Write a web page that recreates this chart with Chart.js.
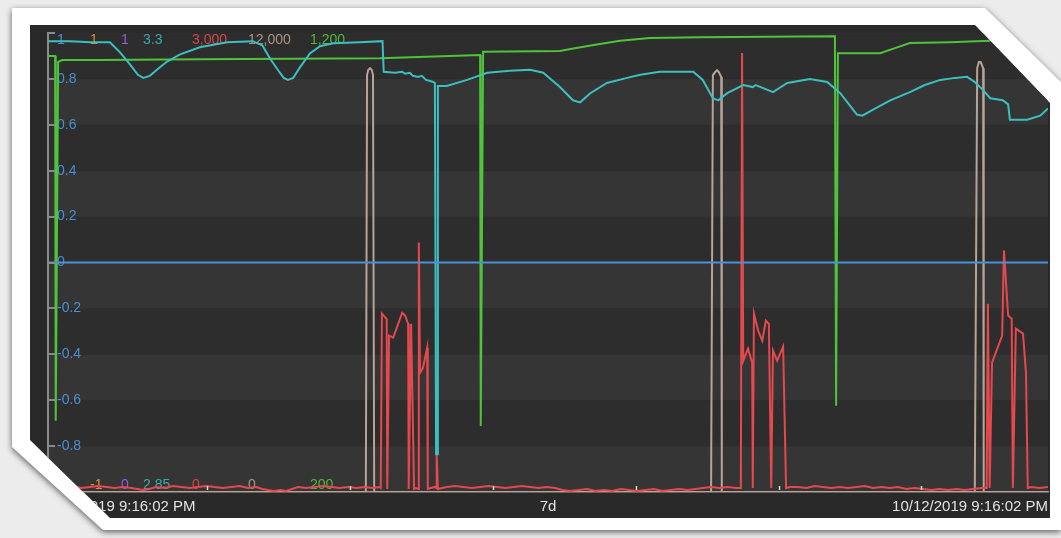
<!DOCTYPE html>
<html>
<head>
<meta charset="utf-8">
<script src="https://cdn.jsdelivr.net/npm/chart.js@4.4.1/dist/chart.umd.min.js"></script>
<style>
  html, body { margin: 0; padding: 0; }
  body { width: 1061px; height: 538px; background: #ececec; position: relative; overflow: hidden; }
  #shadow { position: absolute; left: 0; top: 0; width: 1061px; height: 538px; filter: drop-shadow(0 2px 3px rgba(0, 0, 0, 0.6)); }
  #frame { position: absolute; left: 12px; top: 8px; width: 1049px; height: 522px; background: #fff;
    clip-path: polygon(0 0, 973px 0, 1049px 74px, 1049px 522px, 91px 522px, 0 439px); }
  #panel { position: absolute; left: 30px; top: 25px; width: 1020px; height: 493px; background: #292929;
    clip-path: polygon(0 0, 945px 0, 1020px 78px, 1020px 493px, 80px 493px, 0 415px); }
</style>
</head>
<body>
<div id="shadow"><div id="frame"></div></div>
<div id="panel"><canvas id="chart" width="1020" height="493"></canvas></div>
<script>
// x axis is in hours from 10/5/2019 9:16:02 PM
const xMax = 168
const xLabelHours = [0, 84, 168]
const xTickLabels = ['10/5/2019 9:16:02 PM', '7d', '10/12/2019 9:16:02 PM']
const midnightHours = [2.73, 26.73, 50.73, 74.73, 98.73, 122.73, 146.73]

const blueTicks = [-1, -0.8, -0.6, -0.4, -0.2, 0, 0.2, 0.4, 0.6, 0.8, 1]

// one axis per series: blue, orange, purple, teal, red, tan, green
const seriesKeys = ['blue', 'orange', 'purple', 'teal', 'red', 'tan', 'green']
const axisMin = [-1, -1, 0, 2.85, 0, 0, 200]
const axisMax = [1, 1, 1, 3.3, 3000, 12000, 1200]

const blueHours = [0, 168]
const blueValues = [0, 0]

const orangeHours = []
const orangeValues = []
const purpleHours = []
const purpleValues = []

const tealHours = [
  0, 3.7, 7.1, 10.4, 12.1, 13.8, 15.1, 16.0, 17.1, 18.5,
  20.0, 22.2, 25.5, 30.1, 34.4, 36.0, 37.3, 38.6, 39.6, 40.3,
  41.2, 42.3, 44.0, 45.7, 47.9, 52.4, 56.2, 56.4, 58.3, 59.5,
  60.0, 60.8, 61.3, 62.2, 62.8, 63.5, 64.2, 64.7, 65.0, 65.2,
  65.4, 65.5, 67.0, 70.4, 73.8, 77.6, 81.0, 83.2, 86.0, 88.2,
  89.4, 91.1, 93.9, 97.3, 99.5, 102.8, 108.4, 110.0, 111.7, 112.6,
  114.1, 116.8, 118.4, 118.9, 121.8, 124.2, 128.0, 130.9, 133.1, 134.7,
  135.9, 136.8, 139.0, 141.5, 144.8, 147.3, 149.9, 152.4, 154.4, 155.7,
  157.1, 158.3, 160.4, 161.3, 161.6, 164.5, 166.7, 168
]
const tealValues = [
  3.292, 3.292, 3.291, 3.291, 3.281, 3.269, 3.259, 3.256, 3.258, 3.265,
  3.272, 3.279, 3.286, 3.291, 3.292, 3.288, 3.275, 3.264, 3.256, 3.254,
  3.256, 3.266, 3.280, 3.287, 3.290, 3.291, 3.292, 3.262, 3.261, 3.262,
  3.260, 3.261, 3.258, 3.257, 3.258, 3.254, 3.253, 3.252, 3.251, 2.887,
  2.887, 3.248, 3.248, 3.254, 3.261, 3.263, 3.264, 3.261, 3.247, 3.234,
  3.232, 3.241, 3.251, 3.256, 3.259, 3.262, 3.262, 3.254, 3.236, 3.234,
  3.241, 3.249, 3.247, 3.249, 3.242, 3.251, 3.255, 3.252, 3.241, 3.229,
  3.220, 3.219, 3.226, 3.234, 3.242, 3.249, 3.254, 3.256, 3.257, 3.252,
  3.244, 3.236, 3.234, 3.230, 3.215, 3.215, 3.219, 3.226
]

const redHours = [
  0, 1.4, 2.8, 4.2, 5.6, 7, 8.4, 9.8, 11.2, 12.6,
  14, 15, 16, 17, 18.2, 19.6, 21, 22.4, 23.8, 25.2,
  26.6, 28, 29.4, 30.8, 32.2, 33.6, 35, 36, 37, 38,
  39, 40, 41, 42, 43.4, 44.8, 46.2, 47.6, 49, 50.4,
  51.8, 53.2, 54.6, 55.6, 55.9,
  56.1, 56.9, 57.0, 57.3, 58.0, 59.5, 60.0, 60.5, 60.6, 61.0,
  61.5, 61.8, 62.2, 62.3, 62.5, 63.0, 63.7, 63.8, 64.3, 65.0,
  65.2, 65.3, 65.5, 66.2, 67,
  68.4, 69.8, 71.2, 72.6, 74, 75.4, 76.8, 78.2, 79.6, 81,
  82.4, 83.8, 85.2, 86.4, 87.8, 89.2, 90.6, 92, 93.4, 94.8,
  96.2, 97.6, 99, 100.4, 101.8, 103.2, 104.6, 106, 107.4, 108.8,
  110, 111.4, 112.8, 114.2, 115.6, 116.4,
  116.6, 116.8, 117.6, 118.3, 118.4, 118.6, 119.3, 120.0, 120.6, 121.1,
  121.5, 121.8, 122.5, 123.5, 124.0, 124.7,
  126, 127.4, 128.8, 130.2, 131.6, 133, 134.4, 135.8, 137.2, 138.6,
  140, 141.4, 142.8, 144.2, 145.6, 147, 148.4, 149.8, 151.2, 152.6,
  154, 155.4, 156.8, 157.7,
  157.9, 158.2, 158.6, 160.3, 160.6, 161.3, 161.9, 162.1, 162.6, 163.8,
  164.3, 164.6, 165.2, 166.6, 168
]
const redValues = [
  33, 26, 33, 39, 26, 33, 39, 33, 26, 33,
  26, 20, 13, 20, 33, 26, 39, 33, 26, 33,
  39, 33, 26, 33, 39, 26, 33, 20, 13, 7,
  13, 7, 20, 33, 26, 33, 39, 33, 26, 33,
  26, 33, 26, 33, 26,
  1166, 1130, 20, 1022, 1009, 1172, 1153, 1100, 20, 1100,
  20, 26, 20, 1631, 779, 812, 943, 20, 26, 33,
  26, 249, 20, 26, 33,
  39, 33, 26, 33, 39, 33, 26, 33, 39, 33,
  26, 33, 26, 13, 7, 13, 20, 7, 13, 7,
  20, 13, 7, 13, 20, 7, 13, 20, 13, 20,
  26, 33, 26, 33, 26, 26,
  2869, 858, 937, 845, 26, 1166, 1055, 989, 1120, 1100,
  26, 924, 858, 950, 26, 33,
  33, 26, 39, 33, 26, 33, 26, 33, 39, 26,
  33, 26, 33, 20, 26, 20, 13, 20, 13, 20,
  13, 20, 26, 26,
  1231, 26, 845, 1022, 1579, 1153, 1133, 26, 1068, 1035,
  779, 26, 33, 26, 33
]

const tanHours = [0, 53.4, 53.6, 53.8, 54.1, 54.4, 54.6, 54.8, 111.4, 111.7, 112.1, 112.4, 112.7, 113.1, 113.2, 155.7, 156.1, 156.4, 156.7, 157.1, 157.2, 168]
const tanValues = [0, 0, 10900, 11030, 11080, 11030, 10900, 0, 0, 10900, 10980, 11030, 10980, 10850, 0, 0, 11080, 11240, 11240, 11080, 0, 0]

const greenHours = [0, 1.2, 1.3, 1.7, 2.4, 8.7, 25.5, 55.8, 72.6, 72.7, 73.1, 86.0, 88.5, 92.7, 96.1, 101.1, 109.5, 132.2, 132.4, 132.7, 139.8, 142.3, 144.8, 151.5, 158.3, 168]
const greenValues = [1150, 1150, 355, 1137, 1141, 1141, 1143, 1145, 1152, 344, 1159, 1161, 1167, 1176, 1183, 1189, 1191, 1193, 388, 1156, 1156, 1167, 1178, 1180, 1183, 1183]

const lineColors = ['#4b92d8', '#e39a2d', '#a35be0', '#3dbfbf', '#e5484d', '#b8a396', '#4fc43b']
const labelColors = ['#4a8ed4', '#dc8f2a', '#9a56dc', '#3aa9a9', '#d94545', '#a8968b', '#4fb83a']
const labelPadding = [9, 42, 73, 95, 144, 200, 262]

const toPoints = (hours, values) => hours.map((h, i) => ({ x: h, y: values[i] }))
const seriesData = [
  toPoints(blueHours, blueValues),
  toPoints(orangeHours, orangeValues),
  toPoints(purpleHours, purpleValues),
  toPoints(tealHours, tealValues),
  toPoints(redHours, redValues),
  toPoints(tanHours, tanValues),
  toPoints(greenHours, greenValues)
]
// drawing order, first is on top
const drawOrder = ['blue', 'teal', 'green', 'red', 'tan', 'orange', 'purple']

const fmt = (v) => v.toLocaleString('en-US')

const yScales = {}
seriesKeys.forEach((key, i) => {
  const isBlue = key === 'blue'
  yScales['y_' + key] = {
    type: 'linear',
    position: 'left',
    min: axisMin[i],
    max: axisMax[i],
    grid: { display: isBlue, drawOnChartArea: false, drawTicks: false },
    border: { display: isBlue, color: '#8a8a8a', width: 2 },
    afterBuildTicks: (axis) => {
      const vals = isBlue ? blueTicks : [axisMin[i], axisMax[i]]
      axis.ticks = vals.map(v => ({ value: v }))
    },
    // labels sit inside the plot, so the axis itself takes no room
    afterFit: (axis) => {
      axis.width = 0
      axis.paddingTop = 0
      axis.paddingBottom = 0
    },
    ticks: {
      mirror: true,
      padding: labelPadding[i],
      autoSkip: false,
      color: labelColors[i],
      font: { family: 'Liberation Sans, Arial, sans-serif', size: 14, lineHeight: 1.05 },
      callback: (v) => {
        if (v === axisMax[i]) return ['', fmt(v)]
        if (v === axisMin[i]) return [fmt(v), '']
        return String(Math.round(v * 10) / 10)
      }
    }
  }
})

const bandsPlugin = {
  id: 'bands',
  beforeDraw (chart) {
    const { ctx, chartArea } = chart
    const y = chart.scales.y_blue
    ctx.save()
    for (let i = 0; i < blueTicks.length - 1; i++) {
      const top = y.getPixelForValue(blueTicks[i + 1])
      const bottom = y.getPixelForValue(blueTicks[i])
      ctx.fillStyle = i % 2 === 0 ? '#353535' : '#2d2d2d'
      ctx.fillRect(chartArea.left, top, chartArea.right - chartArea.left, bottom - top)
    }
    ctx.restore()
  }
}

const axisMarksPlugin = {
  id: 'axisMarks',
  afterDraw (chart) {
    const { ctx, chartArea } = chart
    const y = chart.scales.y_blue
    const x = chart.scales.x
    ctx.save()
    ctx.strokeStyle = '#8a8a8a'
    ctx.lineWidth = 2
    blueTicks.forEach(v => {
      const py = Math.round(y.getPixelForValue(v))
      ctx.beginPath()
      ctx.moveTo(chartArea.left, py)
      ctx.lineTo(chartArea.left + 7, py)
      ctx.stroke()
    })
    ctx.strokeStyle = '#d8d8d8'
    ctx.lineWidth = 1.5
    midnightHours.forEach(h => {
      const px = Math.round(x.getPixelForValue(h)) + 0.5
      ctx.beginPath()
      ctx.moveTo(px, chartArea.bottom - 2)
      ctx.lineTo(px, chartArea.bottom - 6)
      ctx.stroke()
    })
    ctx.restore()
  }
}

new Chart(document.getElementById('chart'), {
  type: 'line',
  data: {
    datasets: drawOrder.map(key => {
      const i = seriesKeys.indexOf(key)
      return {
        label: key,
        data: seriesData[i],
        yAxisID: 'y_' + key,
        borderColor: lineColors[i],
        borderWidth: 2,
        pointRadius: 0,
        tension: 0,
        fill: false
      }
    })
  },
  options: {
    responsive: false,
    animation: false,
    devicePixelRatio: 1,
    layout: { padding: { left: 18, top: 8, right: 2, bottom: 0 } },
    plugins: { legend: { display: false }, tooltip: { enabled: false } },
    scales: {
      x: {
        type: 'linear',
        min: 0,
        max: xMax,
        grid: { display: true, drawOnChartArea: false, drawTicks: false },
        border: { display: true, color: '#a39d97', width: 1.5 },
        afterBuildTicks: (axis) => {
          axis.ticks = xLabelHours.map(v => ({ value: v }))
        },
        afterFit: (axis) => {
          axis.height = 26
          axis.paddingLeft = 0
          axis.paddingRight = 0
        },
        ticks: {
          align: 'inner',
          padding: 6,
          autoSkip: false,
          maxRotation: 0,
          color: '#e2e2e2',
          font: { family: 'Liberation Sans, Arial, sans-serif', size: 15 },
          callback: (v, i) => xTickLabels[i]
        }
      },
      ...yScales
    }
  },
  plugins: [bandsPlugin, axisMarksPlugin]
})
</script>
</body>
</html>
